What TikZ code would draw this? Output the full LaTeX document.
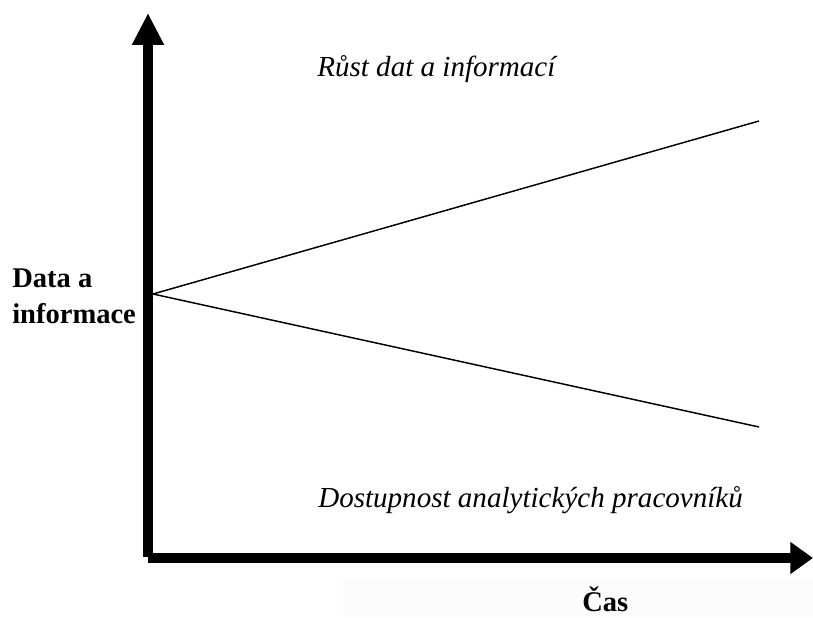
\documentclass[tikz,border=0pt]{standalone}
\usepackage{fontspec}
\setmainfont{Liberation Serif}
\usetikzlibrary{arrows.meta}

\begin{document}
\begin{tikzpicture}[x=0.75pt, y=-0.75pt,
	every node/.style={inner sep=0pt, font=\fontsize{21.4}{27}\selectfont},
	axis/.style={line width=7.5pt},
	trend/.style={line width=1.1pt},
	caption/.style={font=\fontsize{21.8}{27}\selectfont\itshape, anchor=base west},
	label/.style={font=\fontsize{21.4}{27}\selectfont\bfseries, anchor=base west, align=left}]
	\useasboundingbox (0,0) rectangle (813,617);
	\fill[black!1] (343,578) rectangle (813,617);
	% axes
	\coordinate (corner) at (148,557);
	\coordinate (ytip) at (148,13);
	\coordinate (xstart) at (148,558);
	\coordinate (xtip) at (813,558);
	\draw[axis, -{Triangle[length=24pt, width=22.5pt]}] (corner) -- (ytip);
	\draw[axis, -{Triangle[length=17pt, width=23pt]}] (xstart) -- (xtip);
	% trends
	\coordinate (start) at (153,294);
	\coordinate (up) at (759,121);
	\coordinate (down) at (759,427);
	\draw[trend] (start) -- (up);
	\draw[trend] (start) -- (down);
	\node[caption] (growth) at (317,77) {Růst dat a informací};
	\node[caption] (staff) at (318,507) {Dostupnost analytických pracovníků};
	\node[label] (ylabel) at (12,323) {Data a\\informace};
	\node[label] (xlabel) at (582,611) {Čas};
\end{tikzpicture}
\end{document}
